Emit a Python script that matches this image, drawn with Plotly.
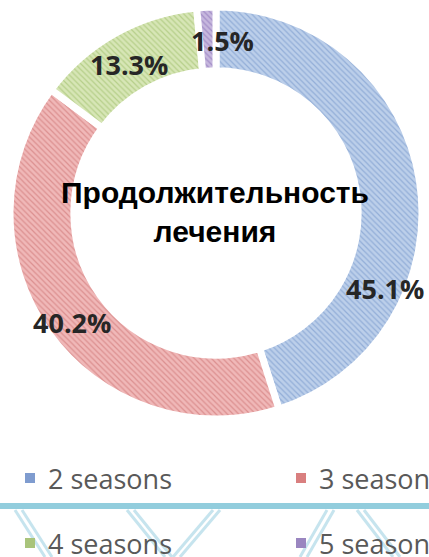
import plotly.graph_objects as go

# ---- data ----
categories = ["2 seasons", "3 seasons", "4 seasons", "5 seasons"]
shares = [45.1, 40.2, 13.3, 1.5]
center_title = "Продолжительность<br>лечения"

# ---- style ----
fill_colors = ["#bccfea", "#f0b8b8", "#d7e6b6", "#c7b8de"]
stripe_colors = ["#93aed8", "#dc9090", "#b6cf8a", "#a28dc7"]
legend_colors = ["#7f9ccf", "#d97f7f", "#a9c47b", "#9a86c0"]
label_pos_px = [(385, 288), (72, 322), (129, 64), (222, 40)]
legend_pos_px = [(30, 478), (301, 478), (30, 543), (301, 543)]

W, H = 429, 557
cx, cy, R = 216, 213, 206

fig = go.Figure()
fig.add_trace(go.Pie(
    labels=categories,
    values=shares,
    sort=False,
    direction="clockwise",
    rotation=0,
    hole=0.69,
    textinfo="none",
    showlegend=False,
    domain=dict(x=[(cx - R) / W, (cx + R) / W], y=[(H - cy - R) / H, (H - cy + R) / H]),
    marker=dict(
        colors=fill_colors,
        line=dict(color="white", width=7),
        pattern=dict(shape="\\", fgcolor=stripe_colors, bgcolor=fill_colors, size=4, solidity=0.3),
    ),
))

annotations = []
for (px, py), v in zip(label_pos_px, shares):
    annotations.append(dict(
        x=px / W, y=1 - py / H, xref="paper", yref="paper",
        text=f"<b>{v:.1f}%</b>", showarrow=False,
        font=dict(family="Open Sans", size=27, color="#262626"),
        xanchor="center", yanchor="middle",
    ))

annotations.append(dict(
    x=215 / W, y=1 - 212 / H, xref="paper", yref="paper",
    text=f"<b>{center_title}</b>", showarrow=False,
    font=dict(family="Liberation Sans", size=30, color="#000000"),
    xanchor="center", yanchor="middle",
))

shapes = []
# background decoration: blue bar and faint diagonal truss lines
shapes.append(dict(type="line", xref="paper", yref="paper", x0=0, x1=1,
                   y0=1 - 506 / H, y1=1 - 506 / H, line=dict(color="#92cddd", width=6), layer="below"))
for (x0, x1) in [(15, 45), (127, 165), (213, 173), (327, 300), (357, 393)]:
    for off in (0, 7):
        shapes.append(dict(type="line", xref="paper", yref="paper",
                           x0=(x0 + off) / W, x1=(x1 + off) / W, y0=1 - 510 / H, y1=0,
                           line=dict(color="#c6e4ee", width=3), layer="below"))

for (px, py), name, col in zip(legend_pos_px, categories, legend_colors):
    shapes.append(dict(type="rect", xref="paper", yref="paper",
                       x0=(px - 5) / W, x1=(px + 5) / W, y0=1 - (py + 5) / H, y1=1 - (py - 5) / H,
                       fillcolor=col, line=dict(width=0)))
    annotations.append(dict(
        x=(px + 16) / W, y=1 - py / H, xref="paper", yref="paper",
        text=name, showarrow=False, xanchor="left", yanchor="middle",
        font=dict(family="Open Sans", size=27, color="#595959"),
    ))

fig.update_layout(
    width=W, height=H,
    margin=dict(l=0, r=0, t=0, b=0),
    paper_bgcolor="white", plot_bgcolor="white",
    annotations=annotations, shapes=shapes,
)

fig.write_html("out.html", config={"displayModeBar": False},
               post_script="document.body.style.margin='0';")
